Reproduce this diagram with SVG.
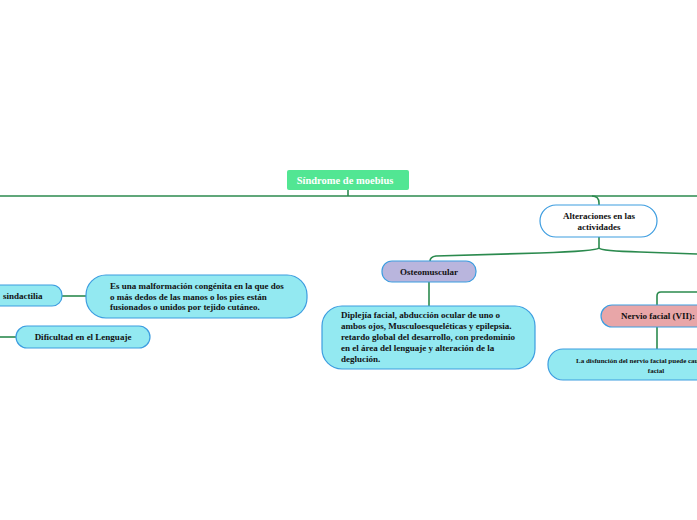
<svg xmlns="http://www.w3.org/2000/svg" width="697" height="520" viewBox="0 0 697 520">
<style>
.c{fill:none;stroke:#2b8a4e;stroke-width:1.6}
.t{font-family:"Liberation Serif",serif;font-weight:bold;font-size:9px;fill:#111}
.m{text-anchor:middle}
.cy{fill:#93e9f1;stroke:#3d9de0;stroke-width:1.2}
</style>
<rect width="697" height="520" fill="#fff"/>
<g id="connectors">
<path class="c" d="M0 196 H697"/>
<path class="c" d="M348 190 V196"/>
<path class="c" d="M592 196 Q599 196 599 203 V205"/>
<path class="c" d="M599 237 V248 Q597 251 540 253 L436 256 Q430 257 430 261"/>
<path class="c" d="M599 248 Q601 251 640 252 L697 254"/>
<path class="c" d="M429 282 V306"/>
<path class="c" d="M697 292 H661 Q657 292 657 296 V305"/>
<path class="c" d="M657 327 V349"/>
<path class="c" d="M62 296 H88"/>
<path class="c" d="M0 337 H16"/>
</g>
<g id="root">
<rect x="287" y="170" width="122" height="20" rx="2" fill="#52e693"/>
<text x="345" y="183.5" class="t m" style="font-size:10.5px;fill:#fff">Síndrome de moebius</text>
</g>
<g id="alteraciones">
<rect x="540" y="205" width="117" height="32" rx="16" fill="#fff" stroke="#3d9de0" stroke-width="1.2"/>
<text x="599" y="219" class="t m">Alteraciones en las</text>
<text x="599" y="230" class="t m">actividades</text>
</g>
<g id="osteomuscular">
<rect x="382" y="261" width="94" height="21" rx="10" fill="#b9b5dd" stroke="#3d9de0" stroke-width="1.2"/>
<text x="429" y="274.5" class="t m">Osteomuscular</text>
</g>
<g id="diplejia">
<rect x="322" y="306" width="213" height="63" rx="20" class="cy"/>
<text x="341" y="318" class="t">Diplejía facial, abducción ocular de uno o</text>
<text x="341" y="329" class="t">ambos ojos, Musculoesqueléticas y epilepsia.</text>
<text x="341" y="340" class="t">retardo global del desarrollo, con predominio</text>
<text x="341" y="351" class="t">en el área del lenguaje y alteración de la</text>
<text x="341" y="362" class="t">deglución.</text>
</g>
<g id="nervio">
<rect x="601" y="305" width="120" height="22" rx="11" fill="#e8a6a8" stroke="#3d9de0" stroke-width="1.2"/>
<text x="621" y="319" class="t">Nervio facial (VII):</text>
</g>
<g id="disfuncion">
<rect x="548" y="349" width="220" height="31" rx="15" class="cy"/>
<text x="576" y="363" class="t" style="font-size:7px">La disfunción del nervio facial puede causar parálisis</text>
<text x="656" y="373" class="t m" style="font-size:7px">facial</text>
</g>
<g id="sindactilia">
<rect x="-20" y="285" width="82" height="21" rx="10" class="cy"/>
<text x="3" y="299" class="t">sindactilia</text>
</g>
<g id="malformacion">
<rect x="86" y="275" width="221" height="43" rx="20" class="cy"/>
<text x="110" y="289" class="t">Es una malformación congénita en la que dos</text>
<text x="110" y="299.5" class="t">o más dedos de las manos o los pies están</text>
<text x="110" y="310" class="t">fusionados o unidos por tejido cutáneo.</text>
</g>
<g id="dificultad">
<rect x="16" y="326" width="134" height="22" rx="11" class="cy"/>
<text x="83" y="340" class="t m">Dificultad en el Lenguaje</text>
</g>
</svg>
